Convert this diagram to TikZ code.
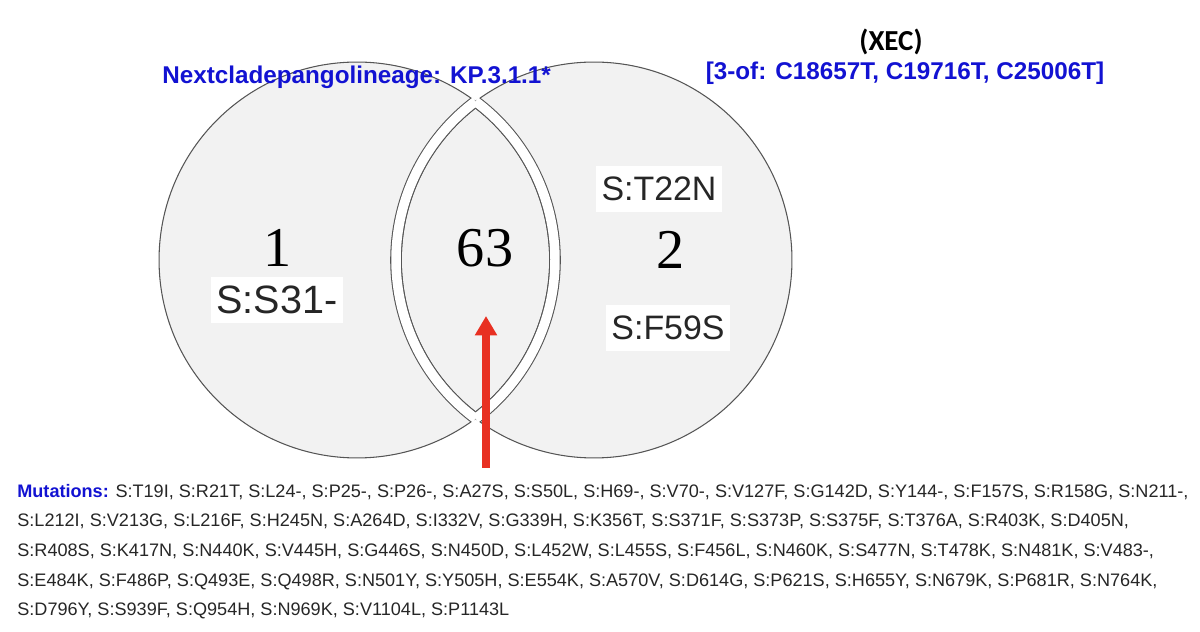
\documentclass[tikz,border=0pt]{standalone}
\usepackage{fontspec}
\setmainfont{Liberation Serif}
\setsansfont{Liberation Sans}
\newfontfamily\calibrifont{Carlito}
\usepackage{xcolor}
\usetikzlibrary{positioning}
\usetikzlibrary{arrows.meta}
\definecolor{setfill}{RGB}{242,242,242}
\definecolor{setline}{RGB}{85,85,85}
\definecolor{labelblue}{RGB}{18,18,210}
\definecolor{arrowred}{RGB}{232,48,34}

\begin{document}
\begin{tikzpicture}[x=0.02cm, y=0.02cm, font=\sffamily]
		\tikzstyle{set}=[circle, draw=setline, line width=0.6pt, fill=setfill, minimum size=7.92cm, inner sep=0pt, outer sep=0pt]
		\tikzstyle{count}=[font=\rmfamily\fontsize{32}{32}\selectfont, inner sep=0pt]
		\tikzstyle{mut}=[fill=white, text=black!85, font=\sffamily\fontsize{19.3}{20}\selectfont, inner xsep=3pt, minimum height=26pt]
		\tikzstyle{gapedge}=[line width=6.6pt, draw=setline]
		\tikzstyle{gap}=[line width=5.4pt, draw=white]
		\tikzstyle{head}=[font=\sffamily\bfseries\fontsize{13.8}{15}\selectfont, text=labelblue, inner sep=0pt]
		
		\useasboundingbox (0,0) rectangle (1200,632);
		
		\node[set] (kp) at (357,372) {};
		\node[set] (xec) at (594,372) {};
		\coordinate (top) at (475.5,530.6);
		\coordinate (bot) at (475.5,213.4);
		
		\begin{scope}
			\clip (357,372) circle[radius=3.96cm];
			\draw[gapedge] (bot) arc[start angle=-53.24, end angle=53.24, radius=3.96cm];
			\draw[gapedge] (top) arc[start angle=126.76, end angle=233.24, radius=3.96cm];
		\end{scope}
		\begin{scope}
			\clip (594,372) circle[radius=3.96cm];
			\draw[gapedge] (bot) arc[start angle=-53.24, end angle=53.24, radius=3.96cm];
			\draw[gapedge] (top) arc[start angle=126.76, end angle=233.24, radius=3.96cm];
		\end{scope}
		\draw[gap] (bot) arc[start angle=-53.24, end angle=53.24, radius=3.96cm];
		\draw[gap] (top) arc[start angle=126.76, end angle=233.24, radius=3.96cm];
		
		\node[count] (n1) at (278,384) {1};
		\node[count] (n63) at (485,384) {63};
		\node[count] (n2) at (671,382) {2};
		\node[mut, font=\sffamily\fontsize{22.5}{23}\selectfont] (s31) at (277,332) {S:S31-};
		\node[mut] (t22n) at (659,443) {S:T22N};
		\node[mut] (f59s) at (668,304) {S:F59S};
		
		\node[head, anchor=west] (lineage) at (162,555) {Nextcladepangolineage: KP.3.1.1*};
		\node[font=\calibrifont\bfseries\fontsize{16.5}{17}\selectfont, inner sep=0pt] (xecname) at (891,590) {(XEC)};
		\node[head] (xecdef) at (905,559) {[3-of: C18657T, C19716T, C25006T]};
		
		\coordinate (tail) at (486,164);
		\coordinate (tip) at (486,316);
		\draw[-{Triangle[width=12pt,length=11pt]}, line width=4pt, draw=arrowred, fill=arrowred] (tail) -- (tip);
		
		\node[anchor=north west, align=left, inner sep=0pt, text=black!85, font=\sffamily\fontsize{10.3}{16.8}\selectfont] (mutlist) at (17,148) {\textcolor{labelblue}{\bfseries Mutations:} S:T19I, S:R21T, S:L24-, S:P25-, S:P26-, S:A27S, S:S50L, S:H69-, S:V70-, S:V127F, S:G142D, S:Y144-, S:F157S, S:R158G, S:N211-,\\
		S:L212I, S:V213G, S:L216F, S:H245N, S:A264D, S:I332V, S:G339H, S:K356T, S:S371F, S:S373P, S:S375F, S:T376A, S:R403K, S:D405N,\\
		S:R408S, S:K417N, S:N440K, S:V445H, S:G446S, S:N450D, S:L452W, S:L455S, S:F456L, S:N460K, S:S477N, S:T478K, S:N481K, S:V483-,\\
		S:E484K, S:F486P, S:Q493E, S:Q498R, S:N501Y, S:Y505H, S:E554K, S:A570V, S:D614G, S:P621S, S:H655Y, S:N679K, S:P681R, S:N764K,\\
		S:D796Y, S:S939F, S:Q954H, S:N969K, S:V1104L, S:P1143L};
	\end{tikzpicture}
\end{document}
